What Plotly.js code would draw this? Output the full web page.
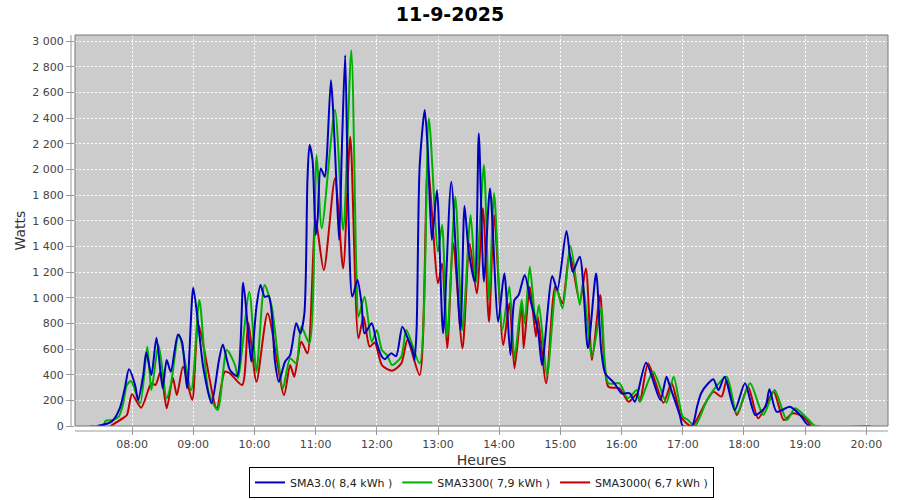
<!DOCTYPE html>
<html>
<head>
<meta charset="utf-8">
<script src="https://cdn.plot.ly/plotly-3.0.1.min.js"></script>
<style>html,body{margin:0;padding:0;background:#fff;}#chart{width:900px;height:500px;}</style>
</head>
<body>
<div id="chart"></div>
<script>
const day = "2025-09-11";
const seriesNames = ["SMA3.0( 8,4 kWh )", "SMA3300( 7,9 kWh )", "SMA3000( 6,7 kWh )"];
const seriesColors = ["#0000c0", "#00b000", "#c00000"];

const blueTimes = ["07:26","07:40","07:48","07:53","07:57","08:03","08:06","08:11","08:14","08:19","08:24","08:30","08:34","08:38","08:45","08:49","08:54","09:00","09:05","09:10","09:18","09:25","09:29","09:36","09:43","09:49","09:54","09:57","10:02","10:06","10:10","10:14","10:17","10:20","10:24","10:30","10:35","10:41","10:45","10:49","10:52","10:54","10:57","11:00","11:02","11:05","11:09","11:11","11:15","11:17","11:20","11:23","11:26","11:29","11:32","11:36","11:41","11:45","11:48","11:55","12:00","12:05","12:08","12:14","12:19","12:25","12:31","12:35","12:37","12:39","12:42","12:47","12:50","12:54","12:59","13:05","13:13","13:22","13:26","13:30","13:36","13:40","13:45","13:51","13:59","14:05","14:11","14:15","14:19","14:25","14:31","14:38","14:42","14:52","14:57","15:06","15:12","15:19","15:27","15:35","15:40","15:44","15:53","16:00","16:08","16:13","16:24","16:38","16:44","16:47","16:57","17:00","17:09","17:14","17:18","17:25","17:30","17:35","17:41","17:51","18:01","18:11","18:21","18:25","18:32","18:45","18:55","19:01","19:04"];
const blueValues = [0,34,138,296,442,319,202,397,574,397,688,294,514,423,714,657,294,1077,787,449,177,501,636,436,390,1116,722,501,929,1098,1007,1013,878,514,345,501,553,800,722,878,1916,2189,2072,1488,1618,2007,1942,2098,2695,2487,1968,1449,2228,2890,1708,1007,1137,956,722,800,644,540,520,566,545,774,670,592,514,748,2020,2462,2150,1449,1838,722,1903,748,1714,1371,1124,2280,1124,1851,813,1190,553,982,1020,1176,968,748,475,1168,1060,1519,1202,1319,605,1190,592,410,333,255,255,189,493,203,384,319,86,0,0,150,255,333,364,280,384,125,333,86,150,286,111,150,86,21,0];

const greenTimes = ["07:19","07:32","07:34","07:41","07:47","07:51","07:55","07:59","08:08","08:15","08:19","08:26","08:34","08:38","08:46","08:58","09:06","09:15","09:24","09:33","09:41","09:44","09:55","10:02","10:10","10:17","10:23","10:28","10:35","10:41","10:46","10:54","11:01","11:06","11:19","11:27","11:35","11:40","11:42","11:48","11:55","12:00","12:05","12:10","12:15","12:24","12:29","12:42","12:51","13:00","13:04","13:09","13:17","13:24","13:32","13:37","13:45","13:50","13:55","14:03","14:10","14:15","14:22","14:25","14:30","14:36","14:39","14:47","14:56","15:02","15:10","15:19","15:22","15:31","15:40","15:47","15:58","16:06","16:15","16:18","16:31","16:44","16:51","17:00","17:05","17:12","17:17","17:23","17:30","17:43","17:53","18:06","18:19","18:30","18:42","18:50","19:03","19:10","20:04"];
const greenValues = [0,0,40,47,73,164,319,350,177,618,280,631,216,319,714,280,982,267,125,592,475,372,1046,423,1098,929,540,294,527,488,774,644,2111,1540,2462,1527,2929,1190,851,1007,657,748,592,553,475,540,748,488,2397,1358,1566,696,1786,748,1644,1112,2033,982,1813,748,1085,527,982,800,1241,800,943,397,1085,917,1402,943,1112,540,917,333,333,216,280,189,423,182,384,73,47,0,73,189,280,384,99,333,86,280,47,138,52,0,0];

const redTimes = ["07:39","07:50","07:55","08:00","08:09","08:19","08:23","08:28","08:34","08:40","08:44","08:50","08:59","09:05","09:23","09:31","09:36","09:48","09:54","10:02","10:13","10:29","10:35","10:39","10:46","10:52","11:00","11:08","11:19","11:27","11:34","11:42","11:47","11:53","11:58","12:05","12:15","12:24","12:30","12:42","12:50","13:00","13:04","13:09","13:15","13:24","13:31","13:38","13:44","13:50","13:55","14:04","14:10","14:15","14:22","14:24","14:30","14:36","14:38","14:46","14:55","15:02","15:09","15:19","15:25","15:31","15:39","15:47","15:58","16:07","16:15","16:18","16:26","16:41","16:49","16:59","17:09","17:22","17:30","17:38","17:43","17:53","18:04","18:14","18:29","18:39","18:48","18:58","19:06"];
const redValues = [0,55,86,247,143,333,319,423,138,376,241,462,203,787,138,423,410,319,805,345,878,241,475,384,657,566,1605,1215,1930,1228,2254,683,851,618,650,475,431,488,670,397,2020,1112,1267,605,1423,605,1423,1034,1696,813,1644,631,956,449,943,605,1085,696,851,333,1085,956,1345,968,1228,514,1020,306,294,189,249,189,488,182,333,60,0,177,267,229,358,86,306,60,267,47,99,73,0];

const yTickVals = [0,200,400,600,800,1000,1200,1400,1600,1800,2000,2200,2400,2600,2800,3000];

function toDates(ts){ return ts.map(t => day + " " + t + ":00"); }

const series = [
  {t: redTimes, v: redValues, i: 2},
  {t: greenTimes, v: greenValues, i: 1},
  {t: blueTimes, v: blueValues, i: 0}
];

const traces = series.map(s => ({
  type: "scatter",
  mode: "lines",
  x: toDates(s.t),
  y: s.v,
  name: seriesNames[s.i],
  line: {color: seriesColors[s.i], width: 2, shape: "spline", smoothing: 0.7},
  hoverinfo: "x+y+name"
}));

const tickFont = {family: "DejaVu Sans, sans-serif", size: 11, color: "#444"};

const layout = {
  width: 900, height: 500,
  margin: {l: 75, r: 12, t: 35, b: 74, autoexpand: false},
  paper_bgcolor: "#ffffff",
  plot_bgcolor: "#cccccc",
  separators: ", ",
  title: {text: "<b>11-9-2025</b>", font: {family: "DejaVu Sans, sans-serif", size: 19, color: "#000"}, x: 0.5, xanchor: "center", y: 0.972, yanchor: "middle"},
  showlegend: true,
  legend: {orientation: "h", x: 0.5, xanchor: "center", y: -0.184, yanchor: "bottom",
           traceorder: "reversed", bordercolor: "#000", borderwidth: 1, bgcolor: "#fff",
           font: {family: "DejaVu Sans, sans-serif", size: 11, color: "#222"},
           itemwidth: 30, tracegroupgap: 0},
  xaxis: {
    type: "date",
    range: [day + " 07:04:06", day + " 20:21:12"],
    dtick: 3600000,
    tick0: day + " 08:00:00",
    tickformat: "%H:%M",
    showgrid: true, gridcolor: "#ffffff", griddash: "2px,2px", gridwidth: 1,
    zeroline: false,
    ticks: "outside", ticklen: 8, tickcolor: "#999", tickwidth: 1,
    tickfont: tickFont,
    title: {text: "Heures", font: {family: "DejaVu Sans, sans-serif", size: 14, color: "#333"}, standoff: 4},
    showline: false
  },
  yaxis: {
    range: [0, 3047],
    tickvals: yTickVals,
    tickformat: ",d",
    showgrid: true, gridcolor: "#ffffff", griddash: "2px,2px", gridwidth: 1,
    zeroline: false,
    ticks: "outside", ticklen: 8, tickcolor: "#999", tickwidth: 1,
    tickfont: tickFont,
    title: {text: "Watts", font: {family: "DejaVu Sans, sans-serif", size: 14, color: "#333"}, standoff: 3},
    showline: false
  },
  shapes: [
    {type: "rect", xref: "paper", yref: "paper", x0: 0, x1: 1, y0: 0, y1: 1, line: {color: "#777", width: 1}, fillcolor: "rgba(0,0,0,0)", layer: "above"},
    {type: "line", xref: "paper", yref: "paper", x0: 0, x1: 1, y0: -0.0128, y1: -0.0128, line: {color: "#999", width: 1}},
    {type: "line", xref: "paper", yref: "paper", x0: -0.0049, x1: -0.0049, y0: 0, y1: 1, line: {color: "#999", width: 1}}
  ]
};

Plotly.newPlot("chart", traces, layout, {displayModeBar: false, staticPlot: true});
</script>
</body>
</html>
